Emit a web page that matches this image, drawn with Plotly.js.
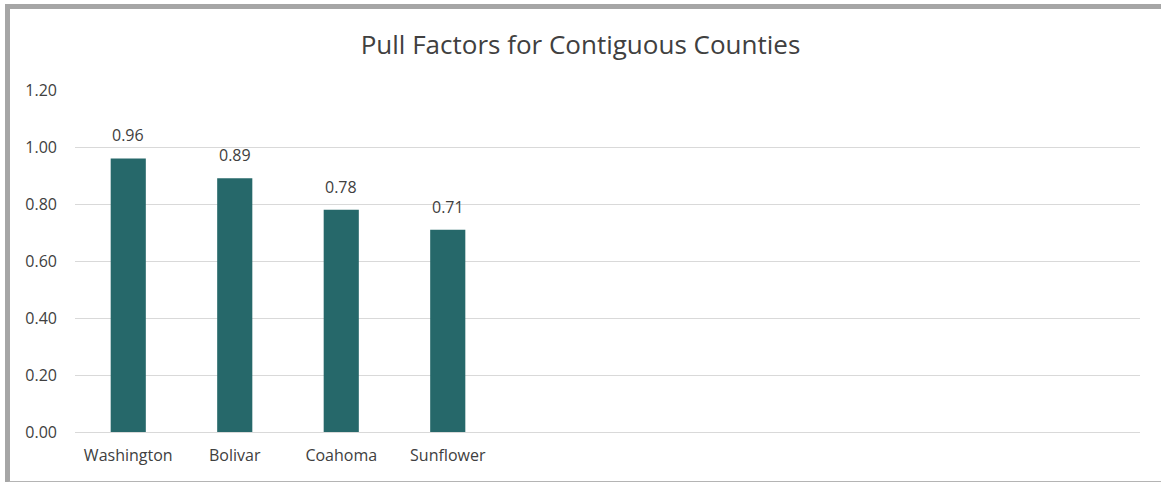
<!DOCTYPE html>
<html>
<head>
<meta charset="utf-8">
<script src="https://cdn.plot.ly/plotly-3.0.1.min.js"></script>
<style>
  html, body { margin: 0; padding: 0; background: #ffffff; overflow: hidden; }
  #frame { position: absolute; left: 5px; top: 4px; width: 1170px; height: 472px;
           border-top: 5px solid #a6a6a6; border-left: 5px solid #a6a6a6; border-bottom: 2px solid #b4b4b4; }
  #chart { position: absolute; left: 0; top: 0; width: 1161px; height: 482px; }
</style>
</head>
<body>
<div id="frame"></div>
<div id="chart"></div>
<script>
const categories = ["Washington", "Bolivar", "Coahoma", "Sunflower"];
const pullFactors = [0.96, 0.89, 0.78, 0.71];
const yTickValues = [0, 0.2, 0.4, 0.6, 0.8, 1.0, 1.2];
const yTickLabels = ["0.00", "0.20", "0.40", "0.60", "0.80", "1.00", "1.20"];
const chartTitle = "Pull Factors for Contiguous Counties";

const font = "Open Sans, Noto Sans, sans-serif";
const textColor = "#404040";

const trace = {
  type: "bar",
  x: categories,
  y: pullFactors,
  marker: { color: "#26686a" },
  hoverinfo: "x+y"
};

const annotations = categories.map((c, i) => ({
  x: c, y: pullFactors[i], xref: "x", yref: "y",
  text: pullFactors[i].toFixed(2),
  showarrow: false, yanchor: "bottom", yshift: 10,
  font: { family: font, size: 16, color: textColor }
}));

const layout = {
  width: 1161, height: 482,
  paper_bgcolor: "rgba(0,0,0,0)",
  plot_bgcolor: "rgba(0,0,0,0)",
  margin: { l: 75, r: 21, t: 90, b: 50 },
  title: {
    text: chartTitle,
    font: { family: font, size: 26, color: textColor },
    x: 0.5, xref: "container", xanchor: "center",
    y: 1, yref: "container", yanchor: "top", pad: { t: 36 }
  },
  bargap: 0.67,
  showlegend: false,
  xaxis: {
    type: "category",
    range: [-0.5, 9.5],
    showgrid: false, zeroline: false, showline: false,
    ticks: "", ticklen: 0,
    ticklabelstandoff: 12,
    tickfont: { family: font, size: 16, color: textColor },
    fixedrange: true
  },
  yaxis: {
    range: [0, 1.2],
    tickvals: yTickValues, ticktext: yTickLabels,
    showgrid: true, gridcolor: "#d9d9d9", gridwidth: 1,
    zeroline: true, zerolinecolor: "#d9d9d9", zerolinewidth: 1,
    showline: false, ticks: "",
    ticklabelstandoff: 17,
    tickfont: { family: font, size: 16, color: textColor },
    fixedrange: true
  },
  annotations: annotations
};

Plotly.newPlot("chart", [trace], layout, { displayModeBar: false, staticPlot: true });
</script>
</body>
</html>
